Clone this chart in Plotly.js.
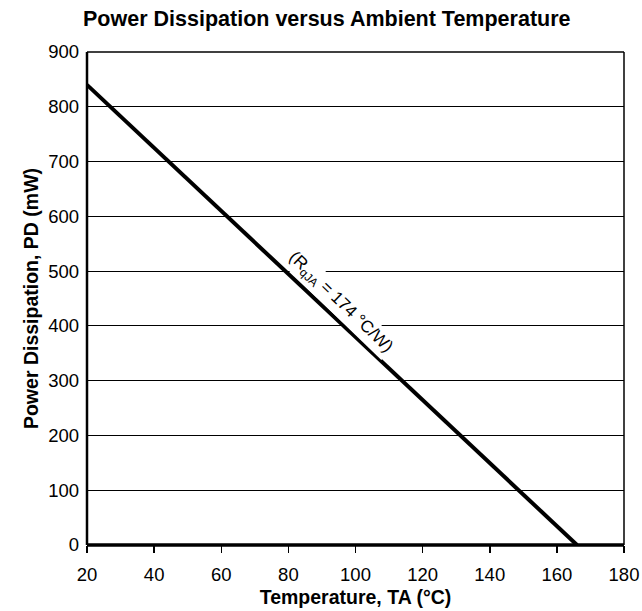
<!DOCTYPE html>
<html>
<head>
<meta charset="utf-8">
<script src="https://cdn.plot.ly/plotly-3.0.1.min.js"></script>
<style>html,body{margin:0;padding:0;background:#fff;}#chart{width:642px;height:611px;}</style>
</head>
<body>
<div id="chart"></div>
<script>
const temperature = [20, 166];
const powerDissipation = [840, 0];
const xTicks = [20, 40, 60, 80, 100, 120, 140, 160, 180];
const yTicks = [0, 100, 200, 300, 400, 500, 600, 700, 800, 900];
const labelText = "(R<sub>qJA</sub> = 174 °C/W)";
const labelPos = {x: 95.5, y: 442};

const font = "Liberation Sans, Arial, sans-serif";
const data = [{
  x: temperature, y: powerDissipation, type: "scatter", mode: "lines",
  line: {color: "#000", width: 4}, hoverinfo: "skip", cliponaxis: false
}];
const layout = {
  width: 642, height: 611,
  margin: {l: 87, r: 18, t: 52, b: 66},
  paper_bgcolor: "#fff", plot_bgcolor: "#fff",
  showlegend: false,
  font: {family: font, color: "#000", size: 18},
  title: {text: "<b>Power Dissipation versus Ambient Temperature</b>", font: {family: font, size: 21.5, color: "#000"}, x: 0.509, xanchor: "center", y: 0.969, yanchor: "middle"},
  xaxis: {
    range: [20, 180], tickvals: xTicks, ticktext: xTicks.map(String),
    ticks: "outside", ticklen: 7, tickwidth: 1.5, tickcolor: "#000",
    showgrid: false, zeroline: false,
    showline: false, mirror: false, automargin: false,
    ticklabelstandoff: 6,
    tickfont: {family: font, size: 18.5, color: "#000"},
    title: {text: "<b>Temperature, TA (°C)</b>", font: {family: font, size: 19.5, color: "#000"}, standoff: 6}
  },
  yaxis: {
    range: [0, 900], tickvals: yTicks, ticktext: yTicks.map(String),
    ticks: "", showgrid: true, gridcolor: "#000", gridwidth: 1,
    zeroline: false, showline: false, automargin: false,
    ticklabelstandoff: 7,
    tickfont: {family: font, size: 18.5, color: "#000"},
    title: {text: "<b>Power Dissipation, PD (mW)</b>", font: {family: font, size: 19.5, color: "#000"}, standoff: 4}
  },
  shapes: [
    {type: "line", xref: "paper", yref: "paper", x0: 0, x1: 1, y0: 1, y1: 1, line: {color: "#000", width: 1.5}},
    {type: "line", xref: "paper", yref: "paper", x0: 1, x1: 1, y0: 0, y1: 1, line: {color: "#000", width: 1.5}},
    {type: "line", xref: "paper", yref: "paper", x0: 0, x1: 0, y0: 0, y1: 1, line: {color: "#000", width: 2.5}},
    {type: "line", xref: "paper", yref: "paper", x0: 0, x1: 1, y0: 0, y1: 0, line: {color: "#000", width: 3.5}}
  ],
  annotations: [{
    x: labelPos.x, y: labelPos.y, xref: "x", yref: "y", text: labelText,
    showarrow: false, textangle: 44, bgcolor: "#fff",
    font: {family: font, size: 17, color: "#000"}
  }]
};
Plotly.newPlot("chart", data, layout, {displayModeBar: false, staticPlot: true});
</script>
</body>
</html>
